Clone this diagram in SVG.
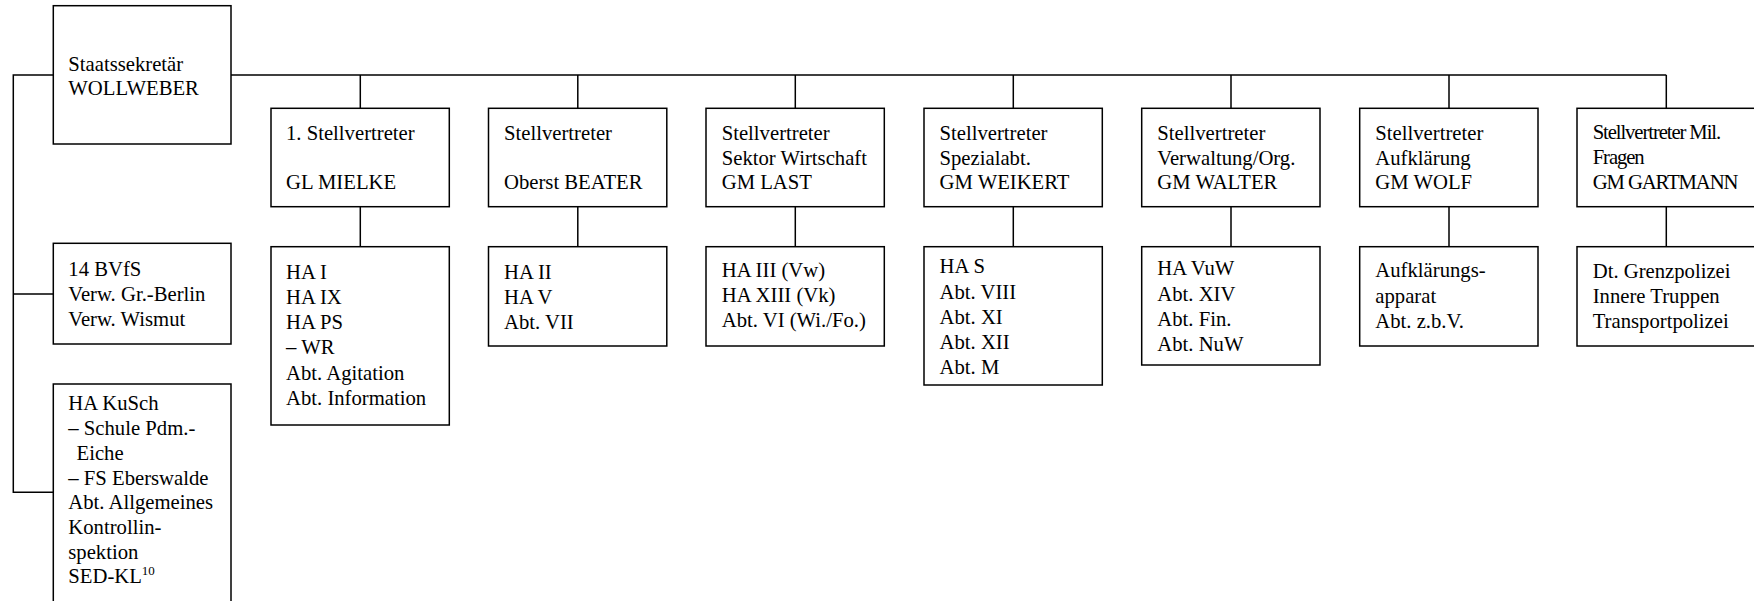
<svg xmlns="http://www.w3.org/2000/svg" width="1754" height="601" viewBox="0 0 1754 601">
<style>
rect{fill:#fff;stroke:#000;stroke-width:1.5}
.c{fill:none;stroke:#000;stroke-width:1.5}
text{font-family:"Liberation Serif","Times New Roman",serif;font-size:20.7px;fill:#000}
.n{letter-spacing:-1.1px}
.sup{font-size:13px}
</style>
<g id="connectors">
<path class="c" d="M53.3,492.3H13.3V75H53.3M13.3,294H53.3M231,75H1666.3"/>
<path class="c" d="M360.3,75V108.3M577.8,75V108.3M795.3,75V108.3M1013.3,75V108.3M1231,75V108.3M1449,75V108.3M1666.3,75V108.3"/>
<path class="c" d="M360.3,206.7V246.7M577.8,206.7V246.7M795.3,206.7V246.7M1013.3,206.7V246.7M1231,206.7V246.7M1449,206.7V246.7M1666.3,206.7V246.7"/>
</g>
<g id="staatssekretaer">
<rect x="53.3" y="5.7" width="177.7" height="138.3"/>
<text x="68.3" y="70.7">Staatssekretär</text>
<text x="68.3" y="95">WOLLWEBER</text>
</g>
<g id="bvfs">
<rect x="53.3" y="243.3" width="177.7" height="100.7"/>
<text x="68.3" y="276">14 BVfS</text>
<text x="68.3" y="300.7">Verw. Gr.-Berlin</text>
<text x="68.3" y="325.7">Verw. Wismut</text>
</g>
<g id="kusch">
<rect x="53.3" y="384" width="177.7" height="230"/>
<text x="68.3" y="410">HA KuSch</text>
<text x="68.3" y="435">– Schule Pdm.-</text>
<text x="76.5" y="460">Eiche</text>
<text x="68.3" y="485">– FS Eberswalde</text>
<text x="68.3" y="509.3">Abt. Allgemeines</text>
<text x="68.3" y="534">Kontrollin-</text>
<text x="68.3" y="558.7">spektion</text>
<text x="68.3" y="583.3">SED-KL<tspan class="sup" dy="-8">10</tspan></text>
</g>
<g id="mielke">
<rect x="271" y="108.3" width="178.3" height="98.4"/>
<text x="286" y="140">1. Stellvertreter</text>
<text x="286" y="189.3">GL MIELKE</text>
</g>
<g id="mielke-units">
<rect x="271" y="246.7" width="178.3" height="178.3"/>
<text x="286" y="278.5">HA I</text>
<text x="286" y="303.8">HA IX</text>
<text x="286" y="329.1">HA PS</text>
<text x="286" y="354.4">– WR</text>
<text x="286" y="379.7">Abt. Agitation</text>
<text x="286" y="405">Abt. Information</text>
</g>
<g id="beater">
<rect x="488.5" y="108.3" width="178.3" height="98.4"/>
<text x="504" y="140">Stellvertreter</text>
<text x="504" y="189.3">Oberst BEATER</text>
</g>
<g id="beater-units">
<rect x="488.5" y="246.7" width="178.3" height="99.3"/>
<text x="504" y="278.5">HA II</text>
<text x="504" y="303.8">HA V</text>
<text x="504" y="329.1">Abt. VII</text>
</g>
<g id="last">
<rect x="706" y="108.3" width="178.3" height="98.4"/>
<text x="721.7" y="140">Stellvertreter</text>
<text x="721.7" y="165">Sektor Wirtschaft</text>
<text x="721.7" y="189.3">GM LAST</text>
</g>
<g id="last-units">
<rect x="706" y="246.7" width="178.3" height="99.3"/>
<text x="721.7" y="276.7">HA III (Vw)</text>
<text x="721.7" y="301.7">HA XIII (Vk)</text>
<text x="721.7" y="327">Abt. VI (Wi./Fo.)</text>
</g>
<g id="weikert">
<rect x="924" y="108.3" width="178.3" height="98.4"/>
<text x="939.5" y="140">Stellvertreter</text>
<text x="939.5" y="165">Spezialabt.</text>
<text x="939.5" y="189.3">GM WEIKERT</text>
</g>
<g id="weikert-units">
<rect x="924" y="246.7" width="178.3" height="138.3"/>
<text x="939.5" y="273.3">HA S</text>
<text x="939.5" y="298.8">Abt. VIII</text>
<text x="939.5" y="323.5">Abt. XI</text>
<text x="939.5" y="349">Abt. XII</text>
<text x="939.5" y="374">Abt. M</text>
</g>
<g id="walter">
<rect x="1141.7" y="108.3" width="178.3" height="98.4"/>
<text x="1157.3" y="140">Stellvertreter</text>
<text x="1157.3" y="165">Verwaltung/Org.</text>
<text x="1157.3" y="189.3">GM WALTER</text>
</g>
<g id="walter-units">
<rect x="1141.7" y="246.7" width="178.3" height="118.3"/>
<text x="1157.3" y="275">HA VuW</text>
<text x="1157.3" y="300.5">Abt. XIV</text>
<text x="1157.3" y="326">Abt. Fin.</text>
<text x="1157.3" y="350.5">Abt. NuW</text>
</g>
<g id="wolf">
<rect x="1359.7" y="108.3" width="178.3" height="98.4"/>
<text x="1375.3" y="140">Stellvertreter</text>
<text x="1375.3" y="165">Aufklärung</text>
<text x="1375.3" y="189.3">GM WOLF</text>
</g>
<g id="wolf-units">
<rect x="1359.7" y="246.7" width="178.3" height="99.3"/>
<text x="1375.3" y="277.3">Aufklärungs-</text>
<text x="1375.3" y="303">apparat</text>
<text x="1375.3" y="328.3">Abt. z.b.V.</text>
</g>
<g id="gartmann">
<rect x="1577" y="108.3" width="178.3" height="98.4"/>
<text class="n" x="1592.7" y="139.3">Stellvertreter Mil.</text>
<text class="n" x="1592.7" y="164">Fragen</text>
<text class="n" x="1592.7" y="189.3">GM GARTMANN</text>
</g>
<g id="gartmann-units">
<rect x="1577" y="246.7" width="178.3" height="99.3"/>
<text x="1592.7" y="278.3">Dt. Grenzpolizei</text>
<text x="1592.7" y="303.3">Innere Truppen</text>
<text x="1592.7" y="328.3">Transportpolizei</text>
</g>
</svg>
